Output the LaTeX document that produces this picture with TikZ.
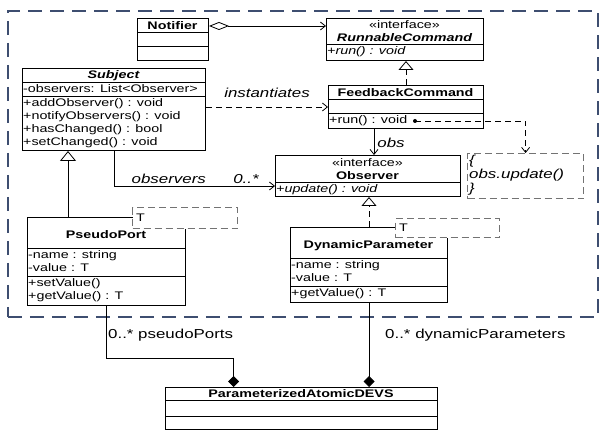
\documentclass[tikz,border=0pt]{standalone}
\usepackage{fontspec}
\setmainfont{Liberation Sans}[FakeStretch=1.3]
\usetikzlibrary{positioning,calc,arrows.meta}

\definecolor{frameblue}{RGB}{62,78,112}

\tikzset{
  umlclass/.style={draw=black, line width=1pt, fill=white, inner sep=0pt, anchor=north west},
  ctitle/.style={inner sep=0pt, font=\fontsize{11}{12.5}\selectfont\bfseries},
  member/.style={anchor=north west, inner sep=1pt, align=left, font=\fontsize{11}{13.5}\selectfont},
  tparam/.style={draw=black!55, dash pattern=on 7pt off 4pt, line width=1.2pt, fill=white, anchor=north west,
    inner sep=1.5pt, align=left, font=\fontsize{11}{12}\selectfont},
  lbl/.style={inner sep=1pt, font=\fontsize{13}{15}\selectfont\itshape},
  plainlbl/.style={inner sep=1pt, font=\fontsize{13}{15}\selectfont},
  dashline/.style={dash pattern=on 6pt off 4pt},
  assoc/.style={line width=0.8pt, -{Straight Barb[length=5pt,width=8pt]}},
  aggr/.style={line width=0.8pt, {Diamond[open,length=20pt,width=8pt]}-{Straight Barb[length=5pt,width=8pt]}},
  realize/.style={line width=0.8pt, dashline, -{Triangle[open,length=9pt,width=15pt]}},
  inherit/.style={line width=0.8pt, -{Triangle[open,length=10pt,width=16pt]}},
  compose/.style={line width=0.8pt, -{Diamond[length=11pt,width=11pt]}},
}

\begin{document}
\begin{tikzpicture}[x=1pt, y=-1pt]
  \useasboundingbox (0,0) rectangle (605,435);

  %package frame
  \node[draw=frameblue, line width=1.8pt, dash pattern=on 14pt off 8pt,
    minimum width=590pt, minimum height=306pt,
    inner sep=0pt, anchor=north west] (pkg) at (7,10) {};

  %Notifier
  \node[umlclass, minimum width=71pt, minimum height=42pt] (notif) at (137,18) {};
  \node[ctitle] (notifT) at (172.5,26) {Notifier};
  \draw[line width=1pt] (notif.west |- 0,33) -- (notif.east |- 0,33);
  \draw[line width=1pt] (notif.west |- 0,47) -- (notif.east |- 0,47);

  %RunnableCommand
  \node[umlclass, minimum width=157pt, minimum height=42pt] (runc) at (326,18) {};
  \node[ctitle, font=\fontsize{11}{12.5}\selectfont] (runcS) at (404.5,24.5) {«interface»};
  \node[ctitle, font=\fontsize{11}{12.5}\selectfont\bfseries\itshape] (runcT) at (404.5,37.5) {RunnableCommand};
  \draw[line width=1pt] (runc.west |- 0,45) -- (runc.east |- 0,45);
  \node[member, font=\fontsize{11}{13.5}\selectfont\itshape] (runcO) at (326,45) {+run() : void};

  %Subject
  \node[umlclass, minimum width=183pt, minimum height=82pt] (subj) at (22,68) {};
  \node[ctitle, font=\fontsize{11}{12.5}\selectfont\bfseries\itshape] (subjT) at (113.5,75.5) {Subject};
  \draw[line width=1pt] (subj.west |- 0,83) -- (subj.east |- 0,83);
  \node[member] (subjA) at (22,83) {-observers: List<Observer>};
  \draw[line width=1pt] (subj.west |- 0,97) -- (subj.east |- 0,97);
  \node[member, font=\fontsize{11}{13.2}\selectfont] (subjO) at (22,97)
    {+addObserver() : void\\+notifyObservers() : void\\+hasChanged() : bool\\+setChanged() : void};

  %FeedbackCommand
  \node[umlclass, minimum width=155pt, minimum height=43pt] (fbc) at (328,85) {};
  \node[ctitle] (fbcT) at (405.5,92.5) {FeedbackCommand};
  \draw[line width=1pt] (fbc.west |- 0,100) -- (fbc.east |- 0,100);
  \draw[line width=1pt] (fbc.west |- 0,114) -- (fbc.east |- 0,114);
  \node[member] (fbcO) at (328,114) {+run() : void};

  %Observer
  \node[umlclass, minimum width=185pt, minimum height=41pt] (obs) at (275,155) {};
  \node[ctitle, font=\fontsize{11}{12.5}\selectfont] (obsS) at (367.5,163) {«interface»};
  \node[ctitle] (obsT) at (367.5,176) {Observer};
  \draw[line width=1pt] (obs.west |- 0,183) -- (obs.east |- 0,183);
  \node[member, font=\fontsize{11}{13.5}\selectfont\itshape] (obsO) at (275,183) {+update() : void};

  %note
  \node[draw=black!55, dash pattern=on 7pt off 4pt, line width=1.2pt,
    minimum width=116pt, minimum height=45pt,
    inner sep=0pt, anchor=north west] (note) at (467,153) {};
  \node[anchor=north west, inner sep=1pt, align=left,
    font=\fontsize{13}{14}\selectfont\itshape] (noteT) at (468,154) {\{\\obs.update()\\\}};

  %PseudoPort
  \node[umlclass, minimum width=158pt, minimum height=88pt] (pport) at (27,217) {};
  \node[ctitle] (pportT) at (106,235) {PseudoPort};
  \draw[line width=1pt] (pport.west |- 0,249) -- (pport.east |- 0,249);
  \node[member] (pportA) at (27,249) {-name : string\\-value : T};
  \draw[line width=1pt] (pport.west |- 0,277) -- (pport.east |- 0,277);
  \node[member] (pportO) at (27,277) {+setValue()\\+getValue() : T};
  \node[tparam, minimum width=105pt, minimum height=21pt, text width=98pt] (pportP) at (132,207) {T};

  %DynamicParameter
  \node[umlclass, minimum width=157pt, minimum height=75pt] (dyn) at (290,227) {};
  \node[ctitle] (dynT) at (368.5,246) {DynamicParameter};
  \draw[line width=1pt] (dyn.west |- 0,259) -- (dyn.east |- 0,259);
  \node[member] (dynA) at (290,259) {-name : string\\-value : T};
  \draw[line width=1pt] (dyn.west |- 0,287) -- (dyn.east |- 0,287);
  \node[member] (dynO) at (290,287) {+getValue() : T};
  \node[tparam, minimum width=104pt, minimum height=19pt, text width=97pt] (dynP) at (395,218) {T};

  %ParameterizedAtomicDEVS
  \node[umlclass, minimum width=272pt, minimum height=42pt] (pad) at (165,387) {};
  \node[ctitle] (padT) at (301,394) {ParameterizedAtomicDEVS};
  \draw[line width=1pt] (pad.west |- 0,401) -- (pad.east |- 0,401);
  \draw[line width=1pt] (pad.west |- 0,416) -- (pad.east |- 0,416);

  %Notifier holds a RunnableCommand
  \draw[aggr] (notif.east |- notifT) -- (runc.west |- notifT);

  %FeedbackCommand realizes RunnableCommand
  \draw[realize] (fbc.north) -- (fbc.north |- runc.south);

  %Subject instantiates FeedbackCommand
  \draw[dashline, assoc] (subj.east |- fbc.west) -- node[lbl, above=8pt] (instL) {instantiates} (fbc.west);

  %Subject observers
  \draw[assoc] ([xshift=92pt]subj.south west) |-
    node[lbl, pos=0.67, above=1pt] (obsL) {observers}
    node[lbl, pos=0.91, above=1pt] (multL) {0..*}
    ([yshift=-10pt]obs.west);

  %FeedbackCommand obs
  \draw[assoc] ([xshift=-32pt]fbc.south) --
    node[lbl, right=2pt, pos=0.55] (obsRole) {obs}
    ([xshift=-32pt]fbc.south |- obs.north);

  %run() to note
  \coordinate (rundot) at (415,121);
  \fill (rundot) circle (2pt);
  \draw[dashline, assoc] (rundot) -| (note.north);

  %DynamicParameter realizes Observer
  \draw[realize] (dyn.north) -- (dyn.north |- obs.south);

  %PseudoPort extends Subject
  \draw[inherit] ([xshift=41pt]pport.north west) -- ([xshift=41pt]pport.north west |- subj.south);

  %compositions into ParameterizedAtomicDEVS
  \draw[compose] (pport.south) -- ++(0,52) -| ([xshift=-68pt]pad.north);
  \draw[compose] (dyn.south) -- (dyn.south |- pad.north);
  \node[plainlbl, anchor=west] (ppL) at (107,335) {0..* pseudoPorts};
  \node[plainlbl, anchor=west] (dpL) at (384,335) {0..* dynamicParameters};

\end{tikzpicture}
\end{document}
